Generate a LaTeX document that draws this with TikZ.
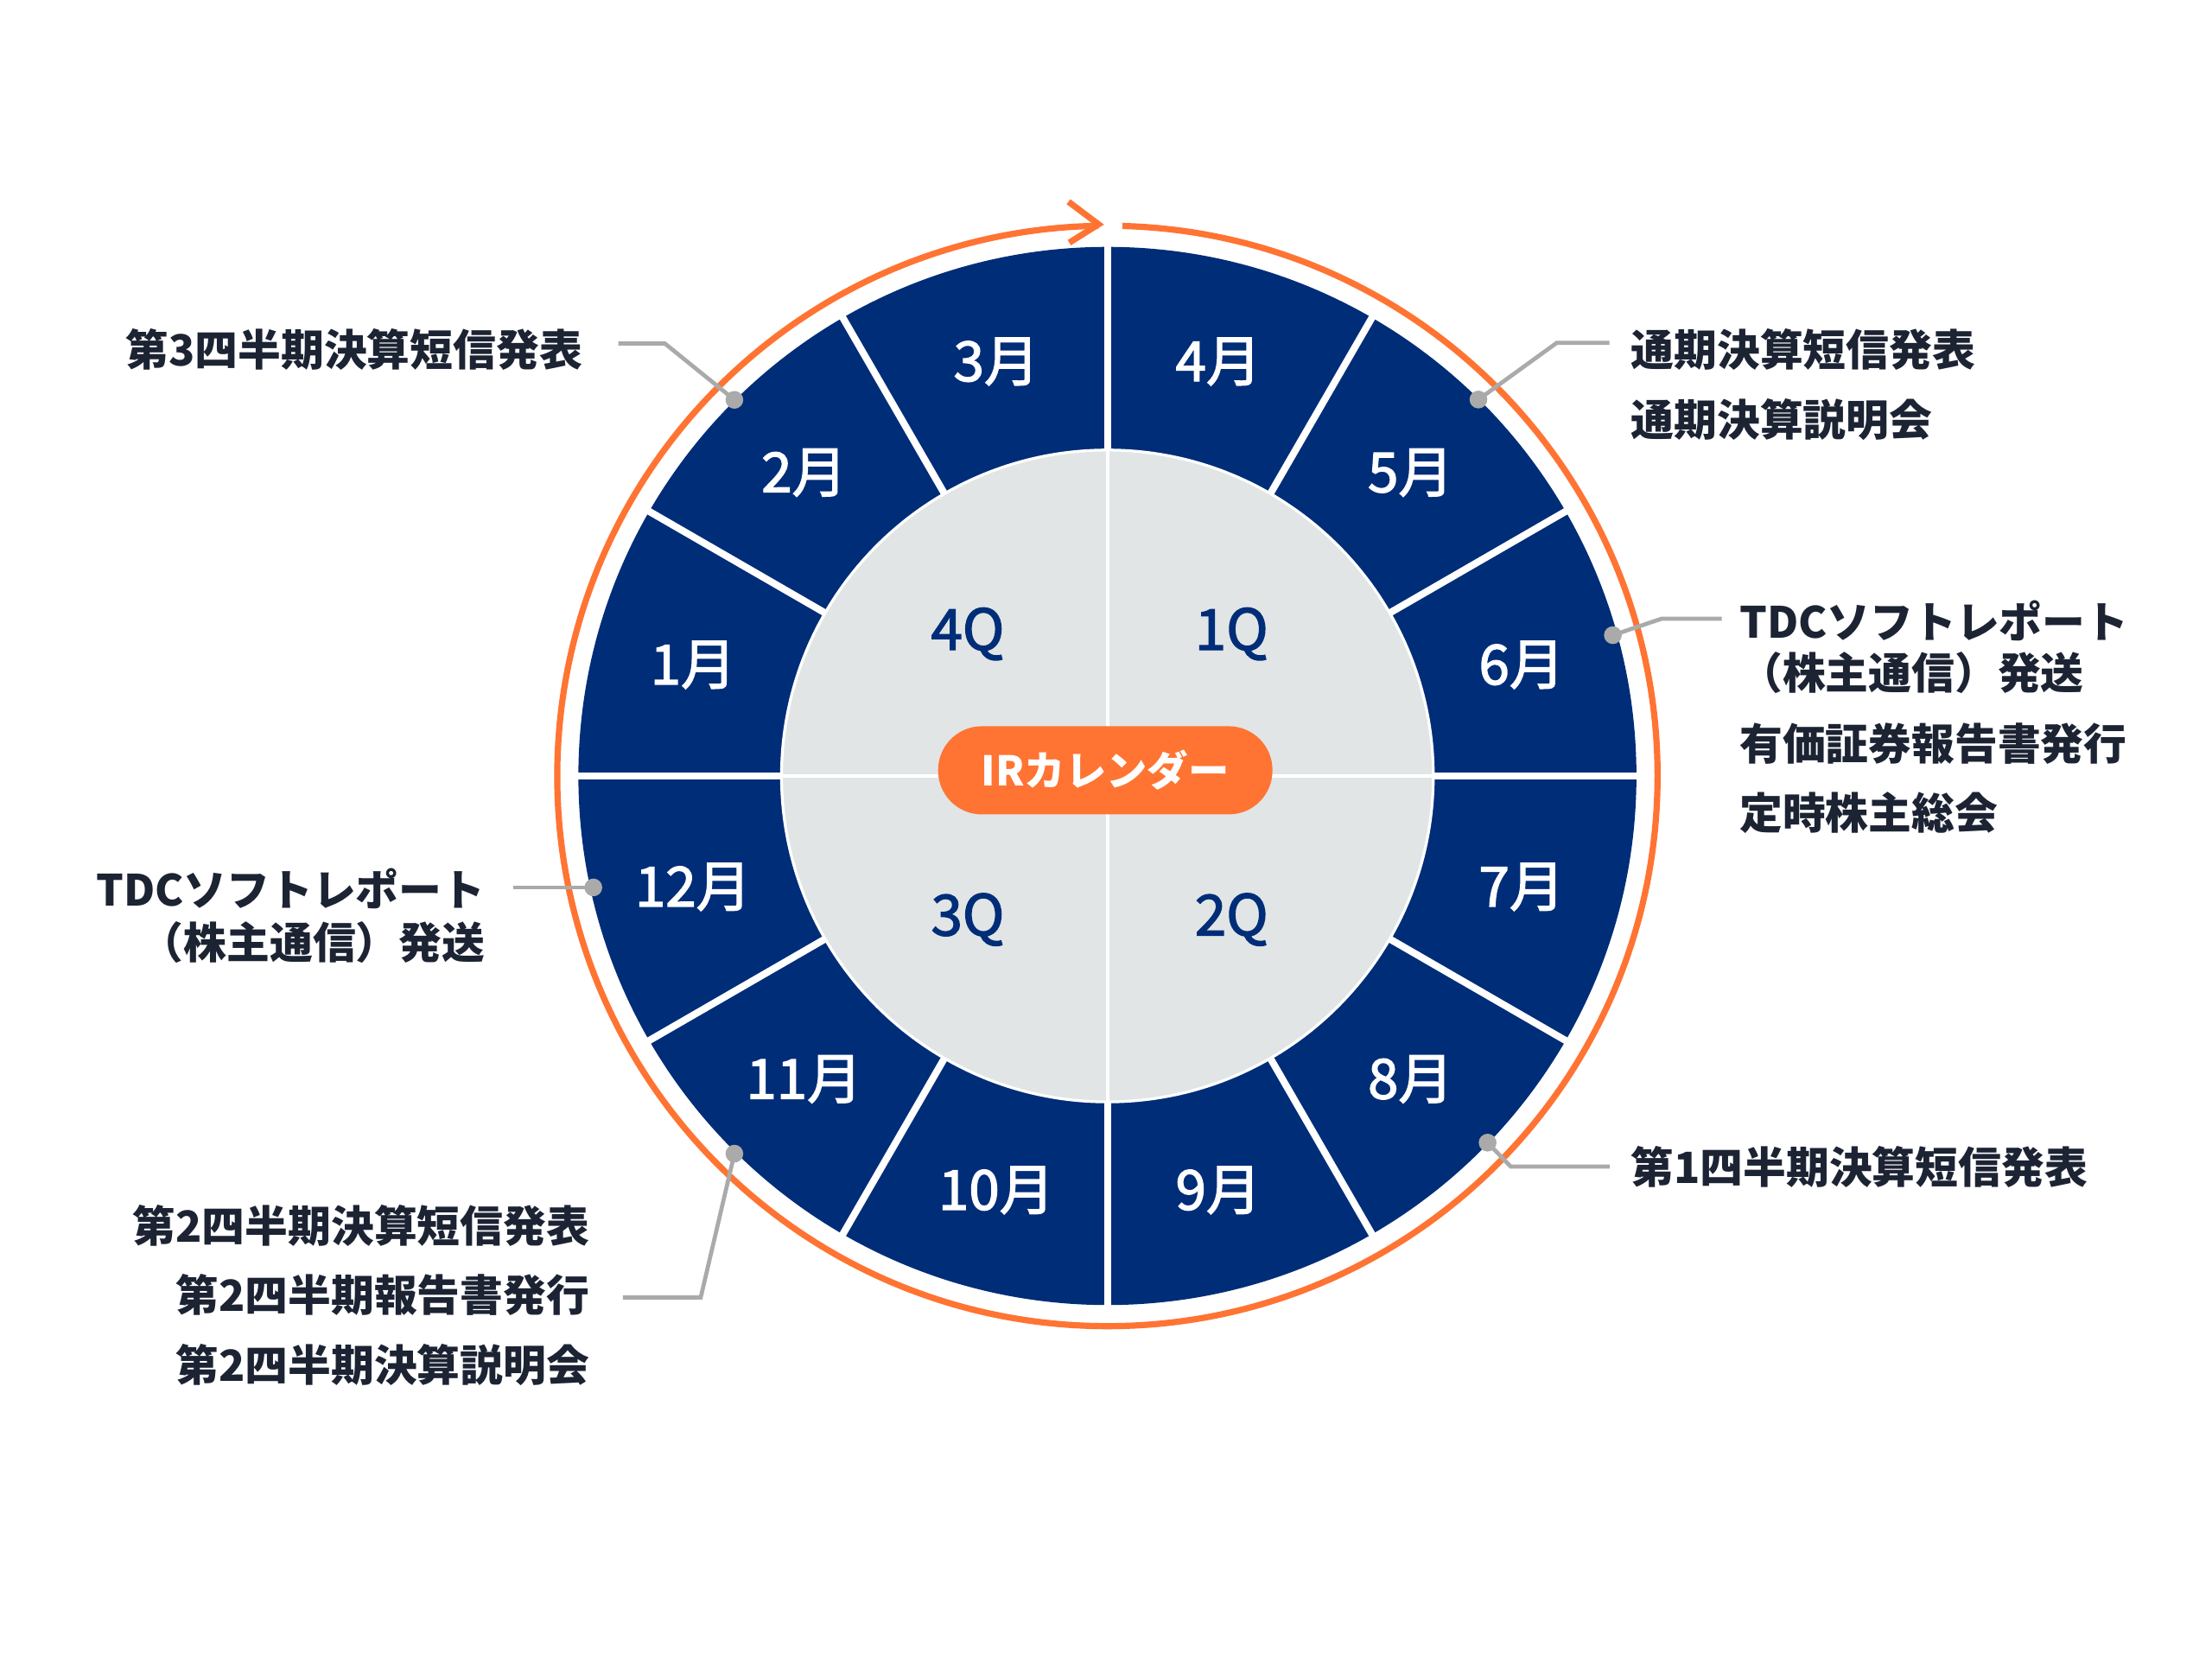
\documentclass[tikz,border=0pt]{standalone}
\usepackage{fontspec}
\setmainfont{Noto Sans CJK JP}
\newfontfamily\jpmed[FakeBold=2.2]{Noto Sans CJK JP}
\definecolor{navy}{HTML}{002D78}
\definecolor{qgray}{HTML}{E1E5E6}
\definecolor{irorange}{HTML}{FF7433}
\definecolor{ctext}{HTML}{1C2333}
\definecolor{cline}{HTML}{AAAAAA}
\begin{document}
\begin{tikzpicture}[x=1pt,y=1pt,
  lbl/.style={font=\fontsize{30.5}{36}\selectfont\bfseries, text=ctext, inner sep=0pt},
  month/.style={font=\jpmed\fontsize{39}{45}\selectfont, text=white, inner sep=0pt},
  qlbl/.style={font=\jpmed\fontsize{40}{46}\selectfont, text=navy, inner sep=0pt, anchor=base},
  conn/.style={draw=cline, line width=2.9pt},
  ring/.style={draw=irorange, line width=4.4pt}]
\useasboundingbox (-785,-626) rectangle (783,550);
\fill[white] (-785,-626) rectangle (783,550);
\coordinate (C) at (0,0);
% navy ring
\fill[navy] (C) circle[radius=375];
\foreach \a in {0,30,...,330} \draw[white, line width=5pt] (\a:229) -- (\a:377);
% gray disc
\filldraw[fill=qgray, draw=white, line width=2pt] (C) circle[radius=231];
\foreach \a in {0,90,180,270} \draw[white, line width=2.5pt] (C) -- (\a:231);
% months
\node[month] (m4)  at (75:304)   {4月};
\node[month] (m5)  at (45:304)   {5月};
\node[month] (m6)  at (15:304)   {6月};
\node[month] (m7)  at (-15:304)  {7月};
\node[month] (m8)  at (-45:304)  {8月};
\node[month] (m9)  at (-75:304)  {9月};
\node[month] (m10) at (-105:304) {10月};
\node[month] (m11) at (-135:304) {11月};
\node[month] (m12) at (-165:304) {12月};
\node[month] (m1)  at (165:304)  {1月};
\node[month] (m2)  at (135:304)  {2月};
\node[month] (m3)  at (105:304)  {3月};
% quarters
\node[qlbl] (q1) at (88,89.4)   {1Q};
\node[qlbl] (q4) at (-99,89.4)  {4Q};
\node[qlbl] (q2) at (88,-113)   {2Q};
\node[qlbl] (q3) at (-99,-113)  {3Q};
% center pill
\node[fill=irorange, rounded corners=31pt, minimum width=237pt, minimum height=62.5pt,
      inner sep=0pt, text=white, font=\fontsize{29}{34}\selectfont\bfseries] (ir) at (-1.5,4) {IRカレンダー};
% orange cycle arrow
\draw[ring] (88.43:390) arc[start angle=88.43, end angle=-269.07, radius=390];
\coordinate (tip) at (-6.3,391);
\coordinate (arm1) at (-27.6,407);
\coordinate (arm2) at (-27,378);
\draw[ring, line join=miter] (arm1) -- (tip) -- (arm2);
% labels
\node[lbl, anchor=east] (t3q) at (-372,302) {第3四半期決算短信発表};
\node[lbl, anchor=west] (tfy1) at (371,302) {通期決算短信発表};
\node[lbl, anchor=west] (tfy2) at (371,252.5) {通期決算説明会};
\node[lbl, anchor=west] (tr1) at (448,110) {TDCソフトレポート};
\node[lbl, anchor=west] (tr2) at (448,73) {（株主通信）発送};
\node[lbl, anchor=west] (tr3) at (448,23) {有価証券報告書発行};
\node[lbl, anchor=west] (tr4) at (448,-26) {定時株主総会};
\node[lbl, anchor=east] (tl1) at (-441,-80) {TDCソフトレポート};
\node[lbl, anchor=east] (tl2) at (-441,-118) {（株主通信）発送};
\node[lbl, anchor=west] (t1q) at (371,-277) {第1四半期決算短信発表};
\node[lbl, anchor=east] (t2a) at (-367,-319) {第2四半期決算短信発表};
\node[lbl, anchor=east] (t2b) at (-367,-368) {第2四半期報告書発行};
\node[lbl, anchor=east] (t2c) at (-367,-417.4) {第2四半期決算説明会};
% connectors
\coordinate (dTL) at (-264.4,266.6);
\coordinate (bTL) at (-313.8,306.6);
\coordinate (eTL) at (-346.7,306.6);
\coordinate (dTR) at (263,266.8);
\coordinate (bTR) at (318.5,307);
\coordinate (eTR) at (355.9,307);
\coordinate (dR) at (358.3,99.8);
\coordinate (bR) at (393,111.5);
\coordinate (eR) at (435.5,111.5);
\coordinate (dL) at (-364.4,-79);
\coordinate (eL) at (-421.2,-79);
\coordinate (dBL) at (-264.4,-267.7);
\coordinate (bBL) at (-288.3,-369.7);
\coordinate (eBL) at (-343.4,-369.7);
\coordinate (dBR) at (269.5,-259.9);
\coordinate (bBR) at (285.8,-276.8);
\coordinate (eBR) at (356.2,-276.8);
\draw[conn] (eTL) -- (bTL) -- (dTL);
\draw[conn] (eTR) -- (bTR) -- (dTR);
\draw[conn] (eR) -- (bR) -- (dR);
\draw[conn] (eL) -- (dL);
\draw[conn] (eBL) -- (bBL) -- (dBL);
\draw[conn] (eBR) -- (bBR) -- (dBR);
\foreach \d in {dTL,dTR,dR,dL,dBL,dBR} \fill[cline] (\d) circle[radius=6.3];
\end{tikzpicture}
\end{document}
